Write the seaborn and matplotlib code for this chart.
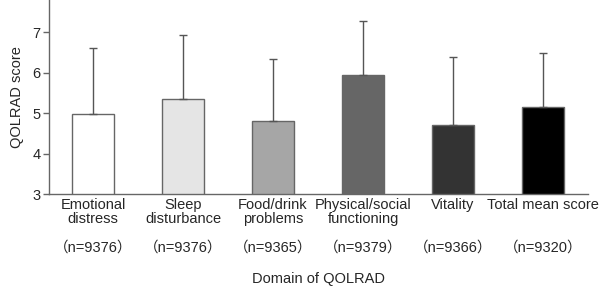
import seaborn as sns
import matplotlib.pyplot as plt
import matplotlib.transforms as mtransforms
import pandas as pd
import numpy as np

# data
domains = ["Emotional\ndistress", "Sleep\ndisturbance", "Food/drink\nproblems",
           "Physical/social\nfunctioning", "Vitality", "Total mean score"]
n_labels = ["（n=9376）", "（n=9376）", "（n=9365）", "（n=9379）", "（n=9366）", "（n=9320）"]
mean_score = [4.98, 5.35, 4.81, 5.94, 4.70, 5.15]
sd_score = [1.62, 1.58, 1.52, 1.33, 1.68, 1.35]
bar_colors = ["#ffffff", "#e5e5e5", "#a6a6a6", "#666666", "#333333", "#000000"]

sns.set_theme(style="ticks")
plt.rcParams['font.family'] = ['Liberation Sans', 'Noto Sans CJK JP', 'DejaVu Sans']
fs = 10.5

df = pd.DataFrame({"domain": domains, "score": mean_score})

fig = plt.figure(figsize=(6, 2.88), dpi=100)
ax = fig.add_axes([49 / 600, 94 / 288, 539 / 600, 194 / 288])

sns.barplot(data=df, x="domain", y="score", hue="domain", palette=bar_colors,
            width=0.47, edgecolor="#666666", linewidth=1, legend=False, ax=ax)
x = np.arange(len(domains))
# one-sided (upward) SD error bars
ax.errorbar(x, mean_score, yerr=[np.zeros(len(sd_score)), sd_score], fmt="none",
            ecolor="#555555", elinewidth=1, capsize=3, capthick=1, zorder=1)

ax.set_ylim(3, 7.8)
ax.set_xlim(-0.49, 5.5)
ax.set_yticks([3, 4, 5, 6, 7])
ax.tick_params(axis="y", labelsize=fs, length=4, color="#666666", width=1, pad=2)
ax.tick_params(axis="x", length=0, labelsize=fs, pad=3)
ax.set_xticks(x)
ax.set_xticklabels(domains, linespacing=1.0)
ax.set_xlabel("")
for sp in ["top", "right"]:
    ax.spines[sp].set_visible(False)
for sp in ["left", "bottom"]:
    ax.spines[sp].set_color("#666666")
    ax.spines[sp].set_linewidth(1)

trans = mtransforms.blended_transform_factory(ax.transData, fig.transFigure)
for xi, lab in zip(x, n_labels):
    ax.text(xi, 1 - 248 / 288, lab, transform=trans, ha="center", va="center",
            fontsize=fs)

ax.set_ylabel("QOLRAD score", fontsize=fs, labelpad=6)
fig.text(319 / 600, 1 - 279 / 288, "Domain of QOLRAD", ha="center", va="center",
         fontsize=fs)

fig.savefig("out.png", dpi=100)
